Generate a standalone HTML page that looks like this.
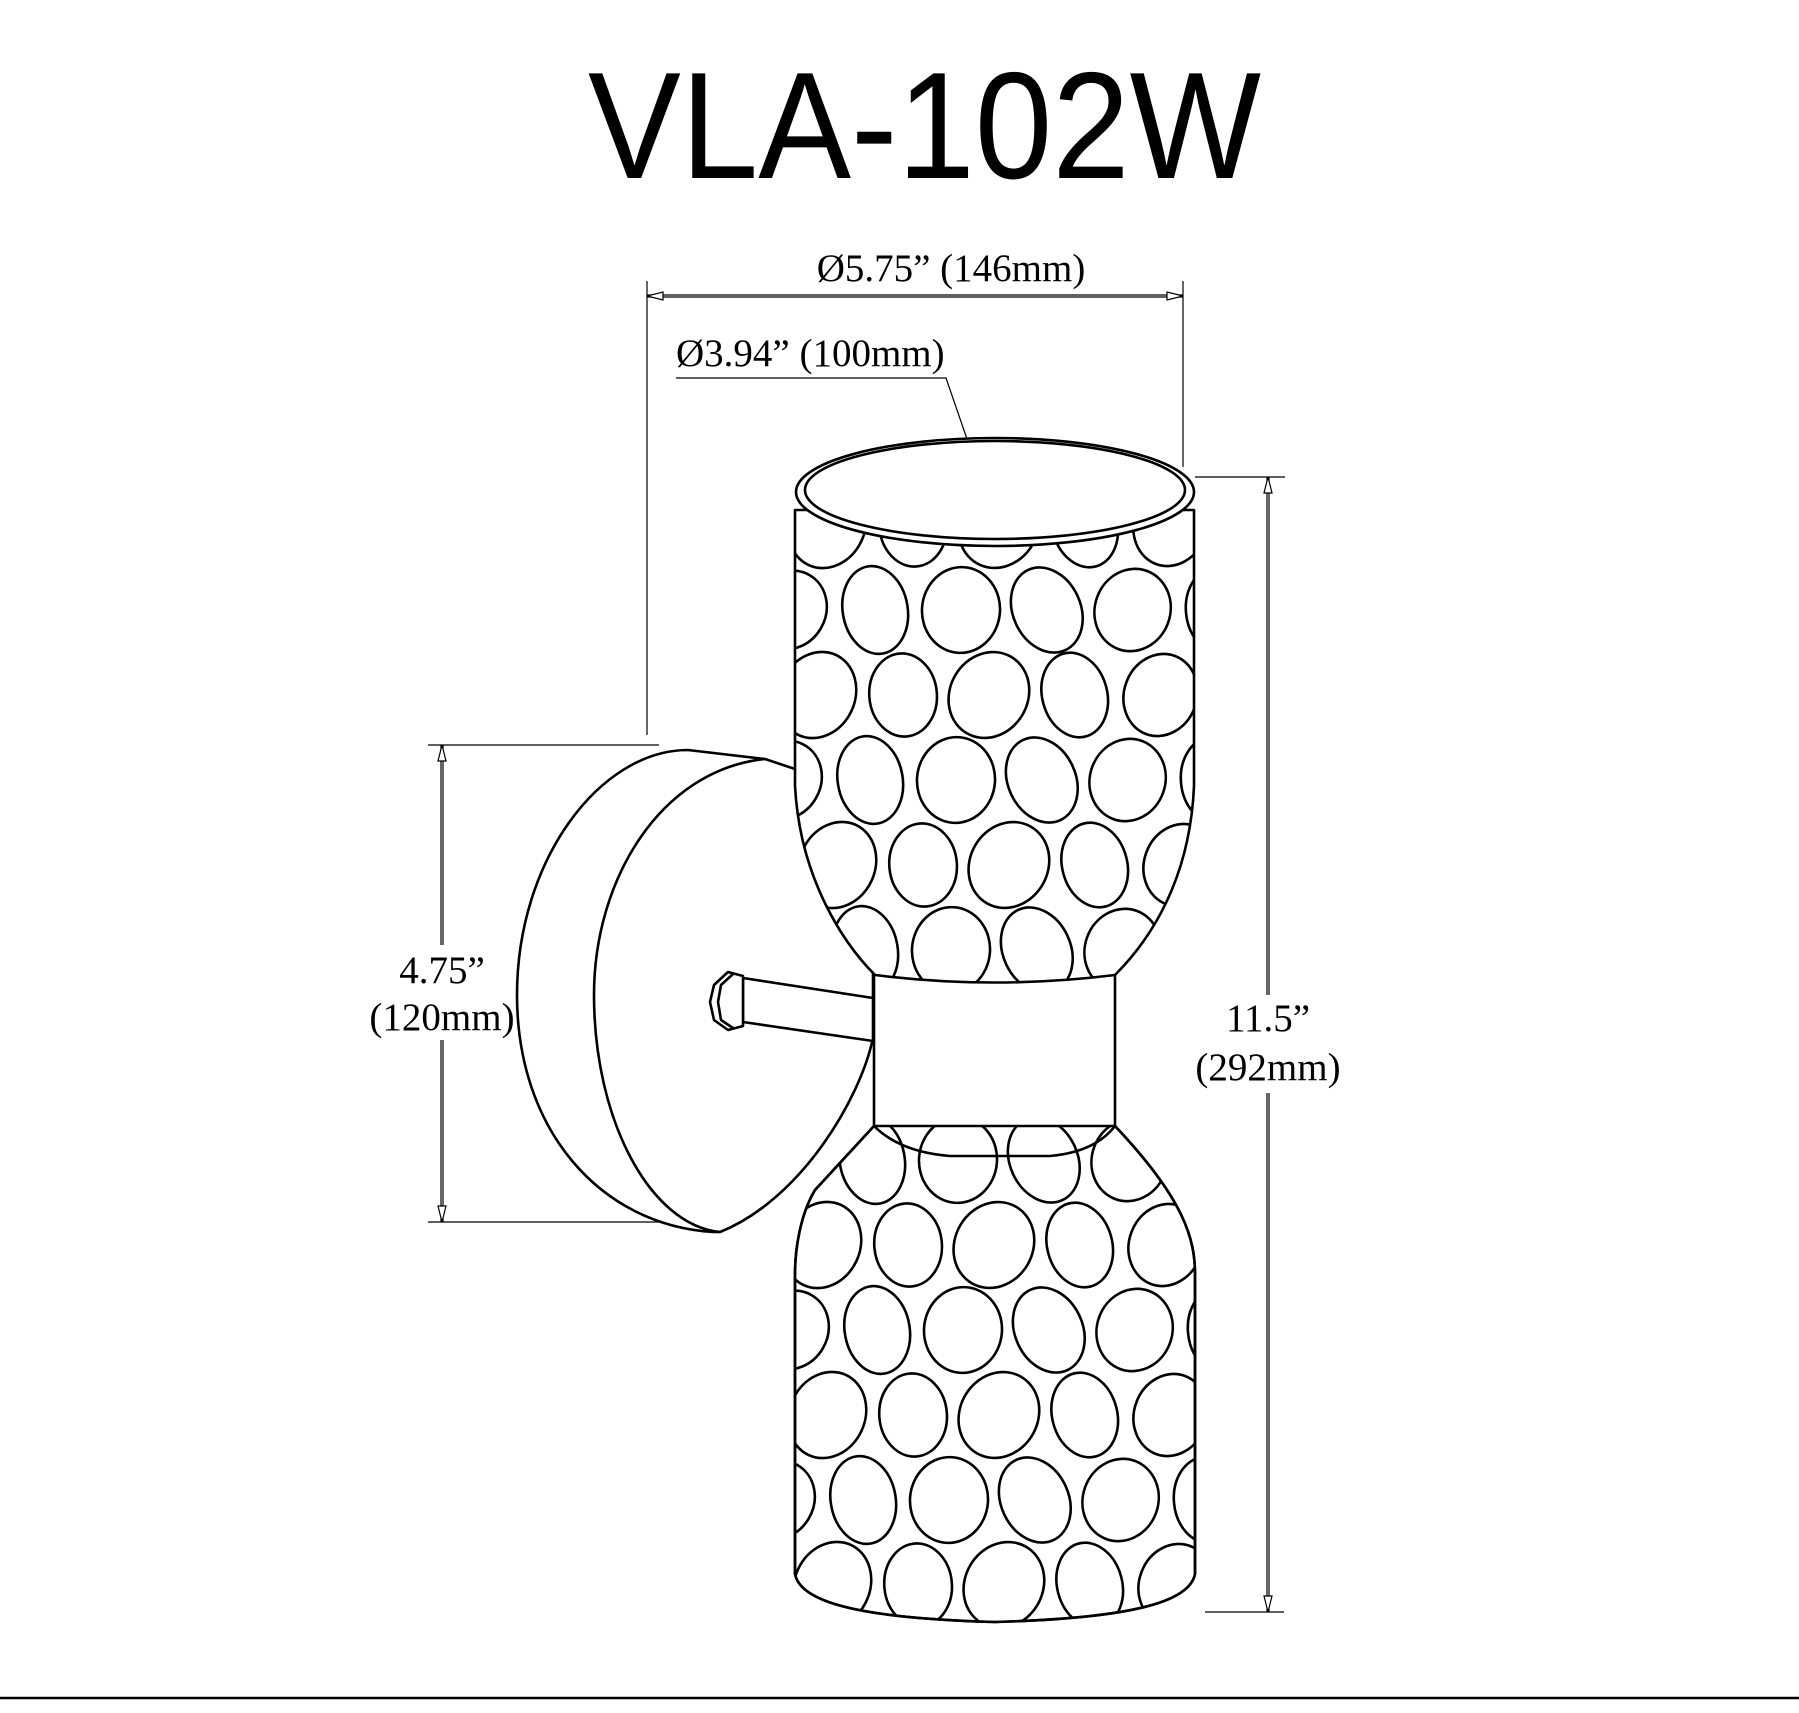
<!DOCTYPE html>
<html><head><meta charset="utf-8"><style>
html,body{margin:0;padding:0;background:#fff;}
svg{display:block;}
</style></head><body>
<svg width="1799" height="1713" viewBox="0 0 1799 1713" xmlns="http://www.w3.org/2000/svg">
<defs>
<clipPath id="topc"><path d="M795,510 L795,786 C800,880 845,945 875,975 Q995,990 1115,975 C1150,940 1190,880 1194,786 L1194,510 Z"/></clipPath>
<clipPath id="botc"><path d="M874,1126 L815,1190 C800,1215 795,1250 795,1274 L795,1574 C800,1600 850,1618 995,1622 C1140,1618 1190,1600 1195,1574 L1195,1274 C1195,1240 1185,1200 1115,1126 Z"/></clipPath>
<g id="rA" fill="none" stroke="#000" stroke-width="2">
<ellipse cx="800" cy="0" rx="26" ry="33" transform="rotate(-10 800 0)"/>
<ellipse cx="866" cy="0" rx="29" ry="34" transform="rotate(25 866 0)"/>
<ellipse cx="932" cy="0" rx="26" ry="32" transform="rotate(-5 932 0)"/>
<ellipse cx="998" cy="0" rx="30" ry="34" transform="rotate(30 998 0)"/>
<ellipse cx="1064" cy="0" rx="25" ry="33" transform="rotate(-15 1064 0)"/>
<ellipse cx="1130" cy="0" rx="28" ry="32" transform="rotate(20 1130 0)"/>
<ellipse cx="1196" cy="0" rx="26" ry="33"/>
</g>
<g id="rB" fill="none" stroke="#000" stroke-width="2">
<ellipse cx="767" cy="0" rx="26" ry="33"/>
<ellipse cx="833" cy="0" rx="28" ry="31" transform="rotate(30 833 0)"/>
<ellipse cx="899" cy="0" rx="25" ry="34" transform="rotate(-10 899 0)"/>
<ellipse cx="965" cy="0" rx="30" ry="33" transform="rotate(5 965 0)"/>
<ellipse cx="1031" cy="0" rx="26" ry="34" transform="rotate(-25 1031 0)"/>
<ellipse cx="1097" cy="0" rx="29" ry="32" transform="rotate(20 1097 0)"/>
<ellipse cx="1163" cy="0" rx="25" ry="33" transform="rotate(-5 1163 0)"/>
<ellipse cx="1229" cy="0" rx="26" ry="33"/>
</g>
</defs>
<rect width="1799" height="1713" fill="#fff"/>
<text x="588" y="178" font-family="Liberation Sans, sans-serif" font-size="152" textLength="673" lengthAdjust="spacingAndGlyphs">VLA-102W</text>

<g font-family="Liberation Serif, serif" font-size="39" fill="#000">
<text x="951" y="281" text-anchor="middle">Ø5.75” (146mm)</text>
<text x="676" y="366">Ø3.94” (100mm)</text>
<text x="442" y="983" text-anchor="middle">4.75”</text>
<text x="442" y="1030" text-anchor="middle">(120mm)</text>
<text x="1268" y="1031" text-anchor="middle">11.5”</text>
<text x="1268" y="1080" text-anchor="middle">(292mm)</text>
</g>

<g stroke="#000" stroke-width="1.2" fill="none">
<line x1="647" y1="281" x2="647" y2="735"/>
<line x1="1183" y1="281" x2="1183" y2="467"/>
<line x1="647" y1="295" x2="1183" y2="295"/><line x1="647" y1="297" x2="1183" y2="297"/>
<path d="M647,296 L663,292 L663,300 Z M1183,296 L1167,292 L1167,300 Z" fill="#fff"/>
<polyline points="676,378 946,378 967,439"/>
<line x1="428" y1="745" x2="659" y2="745"/>
<line x1="428" y1="1222" x2="700" y2="1222"/>
<line x1="441" y1="745" x2="441" y2="945"/><line x1="443" y1="745" x2="443" y2="945"/>
<line x1="441" y1="1040" x2="441" y2="1222"/><line x1="443" y1="1040" x2="443" y2="1222"/>
<path d="M442,745 L438,761 L446,761 Z M442,1222 L438,1206 L446,1206 Z" fill="#fff"/>
<line x1="1195" y1="477" x2="1285" y2="477"/>
<line x1="1205" y1="1612" x2="1284" y2="1612"/>
<line x1="1267" y1="477" x2="1267" y2="995"/><line x1="1269" y1="477" x2="1269" y2="995"/>
<line x1="1267" y1="1093" x2="1267" y2="1612"/><line x1="1269" y1="1093" x2="1269" y2="1612"/>
<path d="M1268,477 L1264,493 L1272,493 Z M1268,1612 L1264,1596 L1272,1596 Z" fill="#fff"/>
</g>
<line x1="0" y1="1698" x2="1799" y2="1698" stroke="#000" stroke-width="2.5"/>

<g stroke="#000" stroke-width="2.6" fill="#fff" stroke-linejoin="round">
<path d="M688,750 C600,750 517,860 517,995 C517,1130 600,1225 713,1232 L720,1232 C800,1200 860,1100 873,1038 L873,800 L795,769 L765,759 Z"/>
<path d="M765,759 C660,770 594,880 594,995 C594,1120 650,1225 720,1232" fill="none"/>
<path d="M743,978 L873,998 L873,1041 L743,1022 Z"/>
<path d="M743,976 L728,972 L714,985 L710,1002 L714,1020 L728,1030 L743,1026 Z"/>
<path d="M733,974 L721,985 L718,1002 L721,1020 L733,1028" fill="none"/>
<rect x="874" y="940" width="241" height="190"/>
<path d="M795,510 L795,786 C800,880 845,945 875,975 Q995,990 1115,975 C1150,940 1190,880 1194,786 L1194,510 Z"/>
<g clip-path="url(#topc)">
<use href="#rA" transform="translate(995,525) scale(1.3) translate(-995,0)"/>
<use href="#rB" transform="translate(1000,610) scale(1.3) translate(-995,0)"/>
<use href="#rA" transform="translate(985,695) scale(1.3) translate(-995,0)"/>
<use href="#rB" transform="translate(995,780) scale(1.3) translate(-995,0)"/>
<use href="#rA" transform="translate(1005,865) scale(1.3) translate(-995,0)"/>
<use href="#rB" transform="translate(990,950) scale(1.3) translate(-995,0)"/>
</g>
<ellipse cx="995" cy="492" rx="199" ry="54"/>
<ellipse cx="995" cy="490" rx="190" ry="49"/>
<path d="M874,1126 L815,1190 C800,1215 795,1250 795,1274 L795,1574 C800,1600 850,1618 995,1622 C1140,1618 1190,1600 1195,1574 L1195,1274 C1195,1240 1185,1200 1115,1126 Z"/>
<g clip-path="url(#botc)">
<use href="#rB" transform="translate(997,1160) scale(1.3) translate(-995,0)"/>
<use href="#rA" transform="translate(990,1245) scale(1.3) translate(-995,0)"/>
<use href="#rB" transform="translate(1002,1330) scale(1.3) translate(-995,0)"/>
<use href="#rA" transform="translate(995,1415) scale(1.3) translate(-995,0)"/>
<use href="#rB" transform="translate(988,1500) scale(1.3) translate(-995,0)"/>
<use href="#rA" transform="translate(1000,1585) scale(1.3) translate(-995,0)"/>
</g>
<path d="M874,1126 L815,1190 C800,1215 795,1250 795,1274 L795,1574 C800,1600 850,1618 995,1622 C1140,1618 1190,1600 1195,1574 L1195,1274 C1195,1240 1185,1200 1115,1126" fill="none"/>
<path d="M874,1126 Q900,1152 950,1156 L1050,1156 Q1095,1152 1115,1126" fill="none"/>
</g>
</svg>
</body></html>
